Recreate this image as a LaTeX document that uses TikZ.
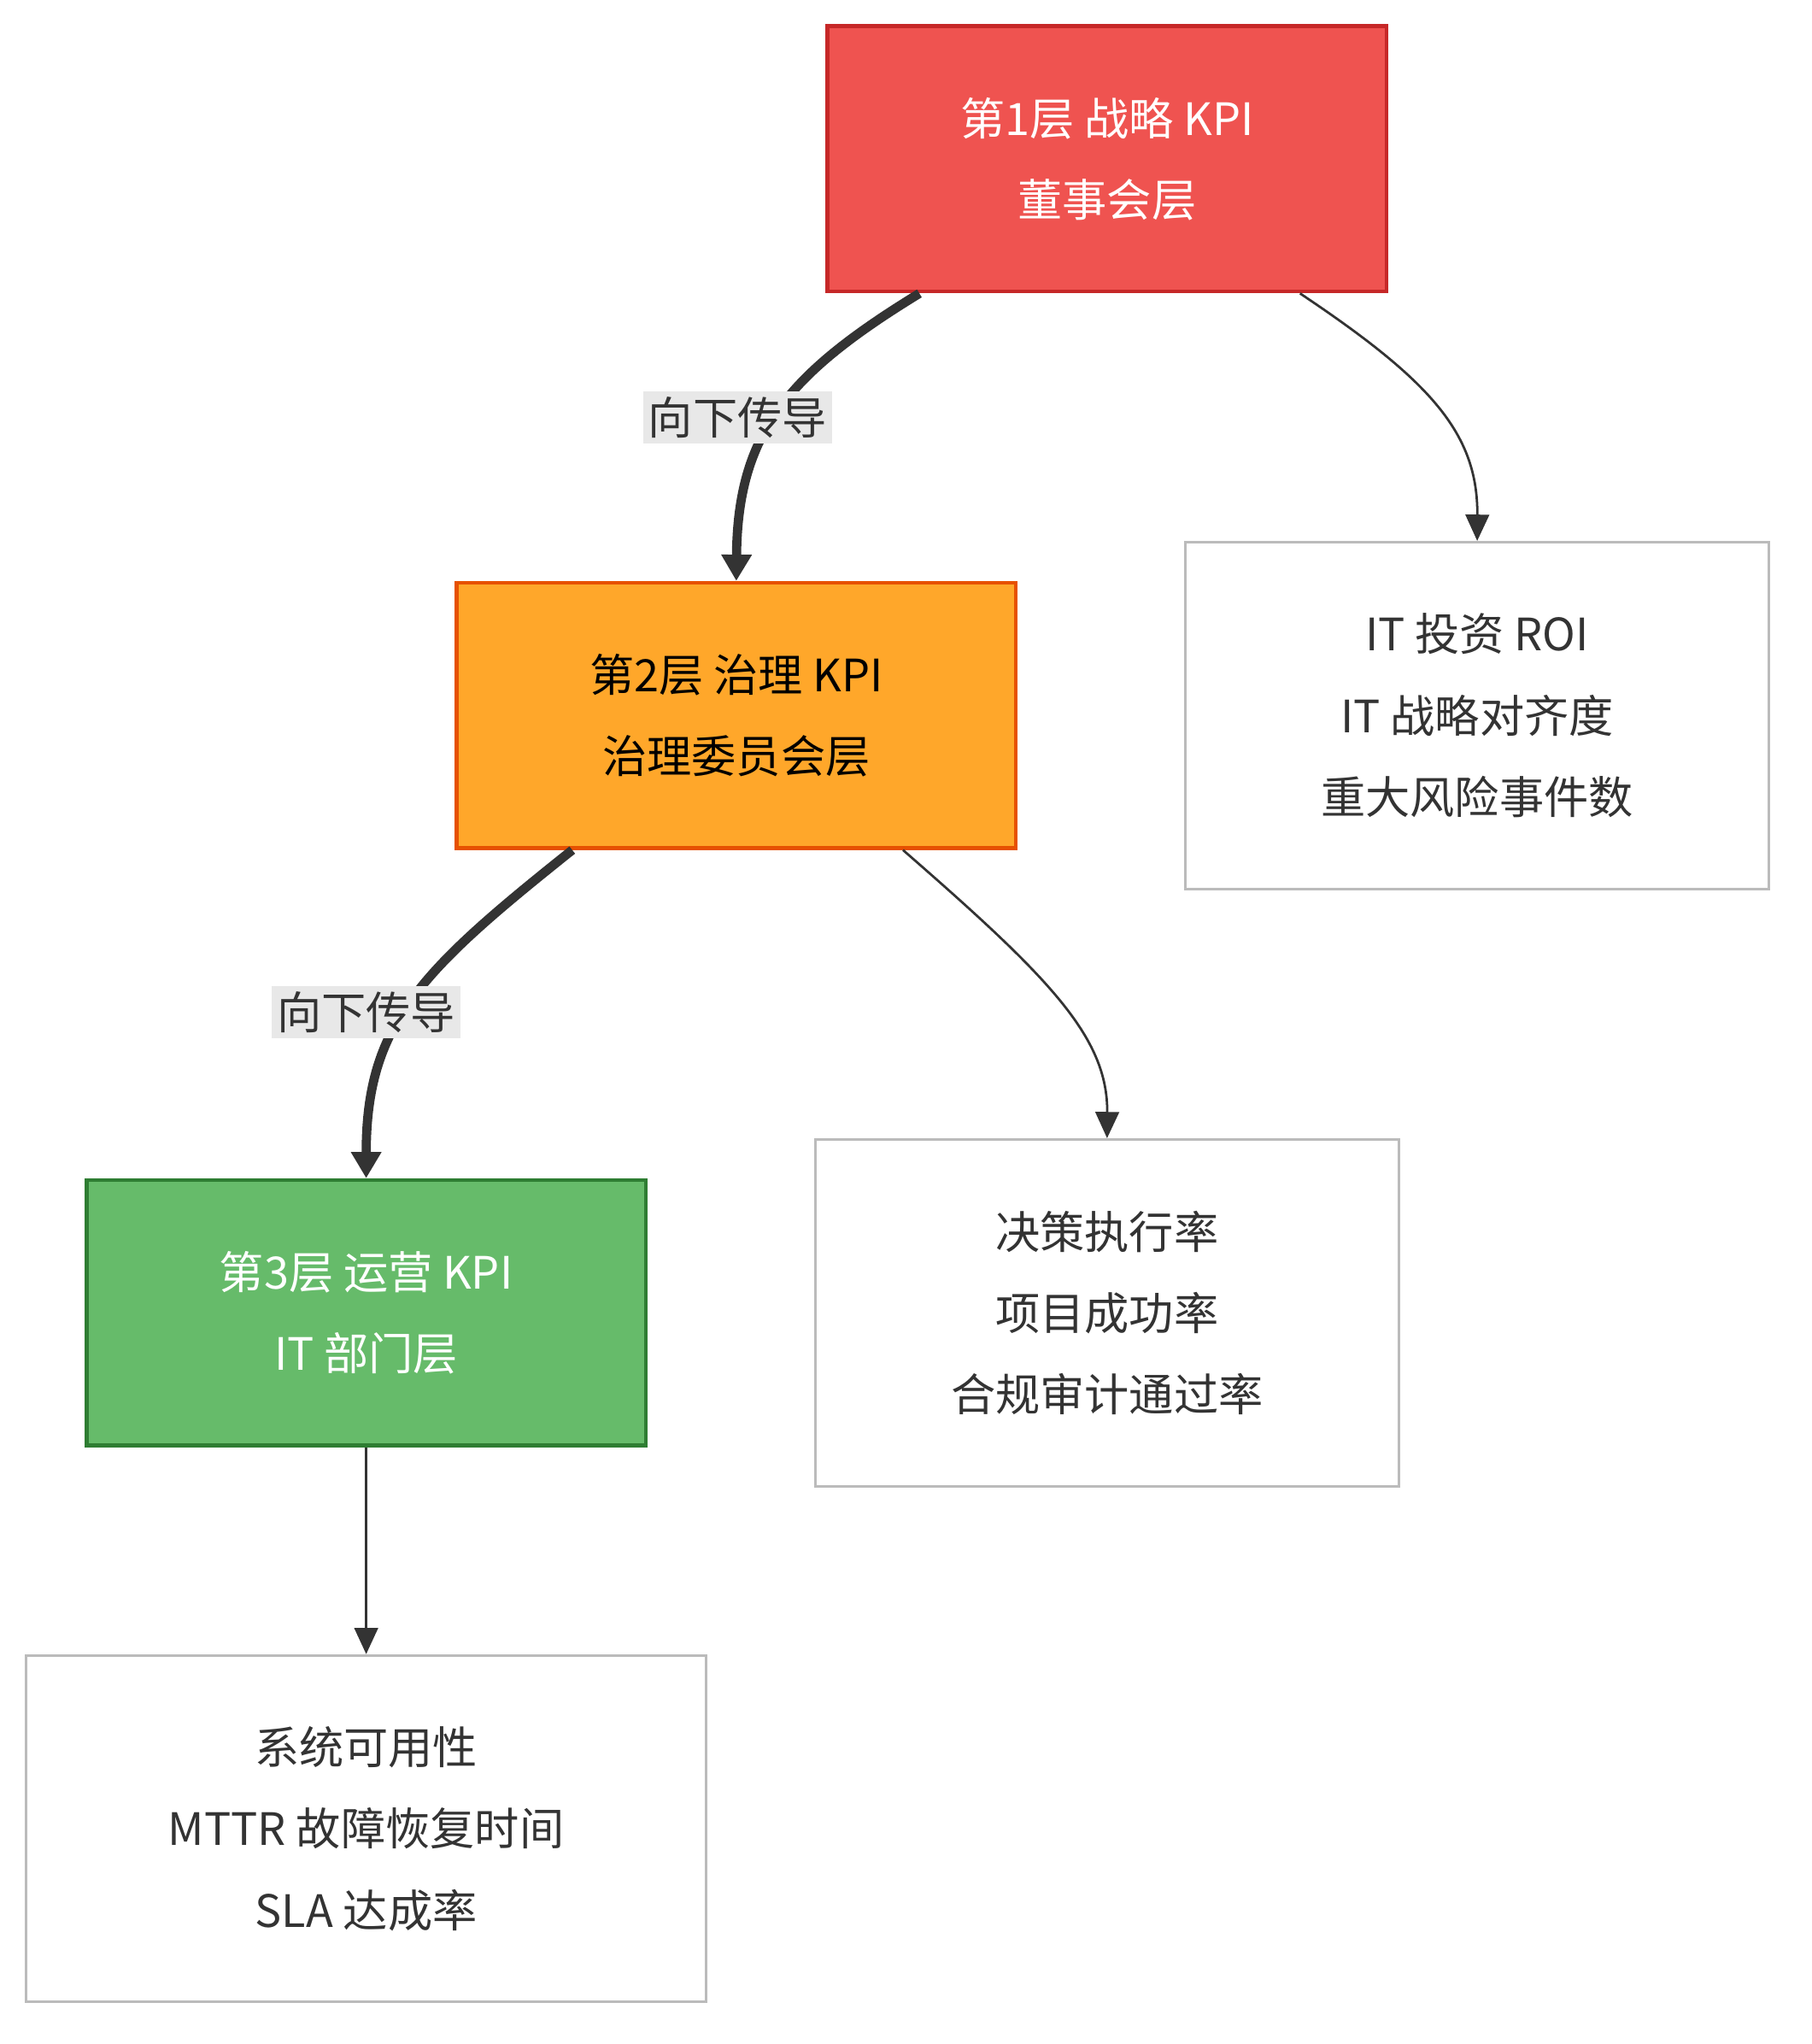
\documentclass[tikz,border=0pt]{standalone}
\usepackage{fontspec}
\setmainfont{Noto Sans CJK SC}
\usetikzlibrary{arrows.meta}
\definecolor{redf}{HTML}{EF5350}\definecolor{redd}{HTML}{C62828}
\definecolor{orf}{HTML}{FFA72A}\definecolor{ord}{HTML}{E65100}
\definecolor{grf}{HTML}{66BB6A}\definecolor{grd}{HTML}{2E7D32}
\definecolor{txt}{HTML}{333333}\definecolor{gb}{HTML}{BBBBBB}
\begin{document}
\begin{tikzpicture}[x=1pt,y=-1pt,
  lvl/.style={draw,line width=3pt,minimum width=426pt,minimum height=202pt,align=center,font=\fontsize{34}{62}\selectfont},
  kbox/.style={draw=gb,line width=2pt,fill=white,minimum width=445pt,minimum height=264pt,align=center,text=txt,font=\fontsize{34}{62}\selectfont},
  thick arr/.style={draw=txt,line width=7pt,-{Triangle[length=20pt,width=22pt]}},
  thin arr/.style={draw=txt,line width=1.8pt,-{Triangle[length=20pt,width=18pt]}},
  lab/.style={fill=black!9,text=txt,font=\fontsize{34}{40}\selectfont,inner sep=4pt}]
\useasboundingbox (0,0) rectangle (1380,1557);
\node[lvl,fill=redf,draw=redd,text=white] (L1) at (843.5,121) {第1层 战略 KPI\\董事会层};
\node[lvl,fill=orf,draw=ord,text=black] (L2) at (561,545) {第2层 治理 KPI\\治理委员会层};
\node[lvl,fill=grf,draw=grd,text=white] (L3) at (279,1000) {第3层 运营 KPI\\IT 部门层};
\node[kbox] (R1) at (1125.5,545) {IT 投资 ROI\\IT 战略对齐度\\重大风险事件数};
\node[kbox] (R2) at (843.5,1000) {决策执行率\\项目成功率\\合规审计通过率};
\node[kbox,minimum width=518pt] (R3) at (279,1393) {系统可用性\\MTTR 故障恢复时间\\SLA 达成率};
\coordinate (a1) at ([xshift=-143pt]L1.south);
\coordinate (a2) at ([xshift=147pt]L1.south);
\coordinate (b1) at ([xshift=-125pt]L2.south);
\coordinate (b2) at ([xshift=127pt]L2.south);
\draw[thick arr] (a1) .. controls (600,285) and (562,330) .. (L2.north);
\draw[thin arr] (a2) .. controls (1090,290) and (1126,330) .. (R1.north);
\draw[thick arr] (b1) .. controls (320,740) and (279,780) .. (L3.north);
\draw[thin arr] (b2) .. controls (800,745) and (844,790) .. (R2.north);
\draw[thin arr] (L3.south) -- (R3.north);
\node[lab] (m1) at (562,318) {向下传导};
\node[lab] (m2) at (279,771) {向下传导};
\end{tikzpicture}
\end{document}
